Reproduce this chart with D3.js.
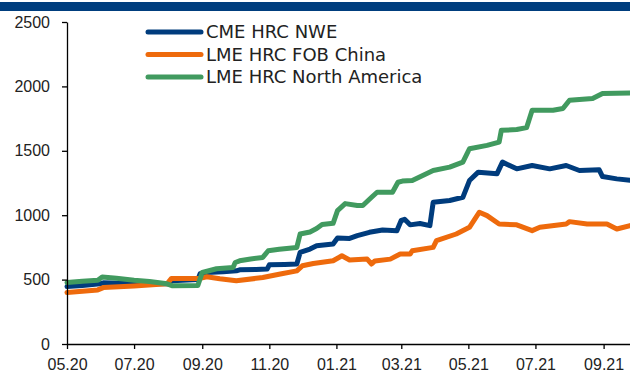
<!DOCTYPE html>
<html>
<head>
<meta charset="utf-8">
<script src="https://cdn.jsdelivr.net/npm/d3@7"></script>
<style>
  body { margin: 0; background: #fff; }
  svg { display: block; font-family: "DejaVu Sans", sans-serif; }
  .axis path, .axis line { stroke: #000; stroke-width: 1.3; }
  .axis text { fill: #222; font-size: 16px; }
</style>
</head>
<body>
<div class="chart"></div>
<script>
// series names + colours
var seriesNames = ["CME HRC NWE", "LME HRC FOB China", "LME HRC North America"];
var seriesColors = ["#003c7d", "#ee6a0c", "#419a5f"];

// values, [date, USD/t]
var cmeNwe = [
  ["2020-05-01", 446], ["2020-05-15", 455], ["2020-05-31", 467], ["2020-06-03", 475],
  ["2020-06-20", 472], ["2020-07-01", 470], ["2020-07-31", 467], ["2020-08-05", 492],
  ["2020-08-28", 500], ["2020-08-30", 545], ["2020-09-05", 555], ["2020-09-20", 560],
  ["2020-10-02", 568], ["2020-10-05", 576], ["2020-10-20", 578], ["2020-10-30", 582],
  ["2020-11-01", 615], ["2020-11-15", 618], ["2020-11-26", 621], ["2020-11-29", 711],
  ["2020-12-08", 737], ["2020-12-14", 763], ["2020-12-29", 776], ["2021-01-02", 823],
  ["2021-01-13", 820], ["2021-01-20", 841], ["2021-01-31", 867], ["2021-02-12", 885],
  ["2021-02-25", 880], ["2021-03-01", 960], ["2021-03-04", 968], ["2021-03-09", 925],
  ["2021-03-18", 935], ["2021-03-27", 919], ["2021-03-30", 1100], ["2021-04-14", 1114],
  ["2021-04-26", 1139], ["2021-05-02", 1269], ["2021-05-10", 1334], ["2021-05-27", 1321],
  ["2021-06-01", 1412], ["2021-06-14", 1360], ["2021-06-28", 1386], ["2021-07-14", 1360],
  ["2021-07-29", 1386], ["2021-08-10", 1347], ["2021-08-28", 1352], ["2021-08-31", 1300],
  ["2021-09-13", 1282], ["2021-09-25", 1272]
];

var lmeFobChina = [
  ["2020-05-01", 400], ["2020-05-29", 420], ["2020-06-03", 438], ["2020-07-01", 450],
  ["2020-07-31", 467], ["2020-08-04", 509], ["2020-08-30", 509], ["2020-09-05", 522],
  ["2020-09-17", 506], ["2020-10-02", 491], ["2020-10-26", 516], ["2020-11-11", 543],
  ["2020-11-26", 568], ["2020-12-01", 607], ["2020-12-11", 625], ["2020-12-29", 646],
  ["2021-01-06", 685], ["2021-01-13", 652], ["2021-01-29", 659], ["2021-02-02", 621],
  ["2021-02-05", 645], ["2021-02-19", 659], ["2021-02-28", 698], ["2021-03-09", 698],
  ["2021-03-11", 724], ["2021-03-30", 750], ["2021-04-02", 802], ["2021-04-20", 854],
  ["2021-05-02", 906], ["2021-05-11", 1023], ["2021-05-18", 997], ["2021-05-29", 932],
  ["2021-06-14", 925], ["2021-06-28", 880], ["2021-07-05", 906], ["2021-07-29", 932],
  ["2021-08-01", 950], ["2021-08-17", 932], ["2021-09-04", 932], ["2021-09-13", 893],
  ["2021-09-25", 919]
];

var lmeNorthAmerica = [
  ["2020-05-01", 477], ["2020-05-15", 488], ["2020-05-29", 495], ["2020-06-02", 520],
  ["2020-06-15", 510], ["2020-07-01", 495], ["2020-07-15", 485], ["2020-07-31", 467],
  ["2020-08-05", 452], ["2020-08-28", 455], ["2020-09-01", 555], ["2020-09-14", 584],
  ["2020-09-29", 594], ["2020-10-01", 633], ["2020-10-05", 646], ["2020-10-15", 660],
  ["2020-10-26", 672], ["2020-10-31", 724], ["2020-11-10", 735], ["2020-11-26", 750],
  ["2020-11-29", 854], ["2020-12-08", 870], ["2020-12-14", 896], ["2020-12-19", 927],
  ["2020-12-29", 937], ["2021-01-02", 1036], ["2021-01-09", 1090], ["2021-01-20", 1075],
  ["2021-01-25", 1075], ["2021-02-02", 1139], ["2021-02-07", 1178], ["2021-02-21", 1178],
  ["2021-02-26", 1256], ["2021-03-02", 1265], ["2021-03-11", 1270], ["2021-03-30", 1347],
  ["2021-04-14", 1373], ["2021-04-26", 1412], ["2021-05-02", 1516], ["2021-05-18", 1542],
  ["2021-05-29", 1568], ["2021-05-31", 1659], ["2021-06-14", 1665], ["2021-06-23", 1680],
  ["2021-06-28", 1815], ["2021-07-17", 1815], ["2021-07-26", 1828], ["2021-08-01", 1892],
  ["2021-08-22", 1906], ["2021-08-31", 1945], ["2021-09-25", 1949]
];

var yTicks = [0, 500, 1000, 1500, 2000, 2500];
var xTickDates = ["2020-05-01", "2020-07-01", "2020-09-01", "2020-11-01", "2021-01-01",
                  "2021-03-01", "2021-05-01", "2021-07-01", "2021-09-01"];
var xTickLabels = ["05.20", "07.20", "09.20", "11.20", "01.21", "03.21", "05.21", "07.21", "09.21"];

var width = 630, height = 374;
var parse = d3.timeParse("%Y-%m-%d");

var svg = d3.select(".chart").append("svg")
    .attr("width", width)
    .attr("height", height);

// top band
svg.append("rect")
    .attr("x", 0).attr("y", 2)
    .attr("width", width).attr("height", 9)
    .attr("fill", "#003e7e");

var x = d3.scaleTime()
    .domain([parse("2020-05-01"), parse("2021-09-25")])
    .range([67, 630]);

var y = d3.scaleLinear()
    .domain([0, 2500])
    .range([344, 22]);

var line = d3.line()
    .x(function(d) { return x(parse(d[0])); })
    .y(function(d) { return y(d[1]); });

var allSeries = [cmeNwe, lmeFobChina, lmeNorthAmerica];

svg.selectAll(".series")
    .data(allSeries)
    .enter()
    .append("path")
    .attr("class", "series")
    .attr("d", line)
    .attr("fill", "none")
    .attr("stroke", function(d, i) { return seriesColors[i]; })
    .attr("stroke-width", 5)
    .attr("stroke-linejoin", "round")
    .attr("stroke-linecap", "round");

// axes
svg.append("g")
    .attr("class", "axis")
    .attr("transform", "translate(67,0)")
    .call(d3.axisLeft(y).tickValues(yTicks).tickFormat(d3.format("d"))
        .tickSize(5).tickSizeOuter(0).tickPadding(12));

svg.append("g")
    .attr("class", "axis")
    .attr("transform", "translate(0,344)")
    .call(d3.axisBottom(x)
        .tickValues(xTickDates.map(parse))
        .tickFormat(function(d, i) { return xTickLabels[i]; })
        .tickSize(5).tickSizeOuter(0).tickPadding(10));

// legend
var legend = svg.selectAll(".legend")
    .data(seriesNames)
    .enter()
    .append("g")
    .attr("class", "legend")
    .attr("transform", function(d, i) { return "translate(0," + (32 + i * 22.5) + ")"; });

legend.append("line")
    .attr("x1", 148).attr("x2", 201)
    .attr("y1", 0).attr("y2", 0)
    .attr("stroke", function(d, i) { return seriesColors[i]; })
    .attr("stroke-width", 5)
    .attr("stroke-linecap", "round");

legend.append("text")
    .attr("x", 206)
    .attr("y", 0)
    .attr("dy", "0.36em")
    .style("font-size", "18px")
    .style("fill", "#222")
    .text(function(d) { return d; });
</script>
</body>
</html>
